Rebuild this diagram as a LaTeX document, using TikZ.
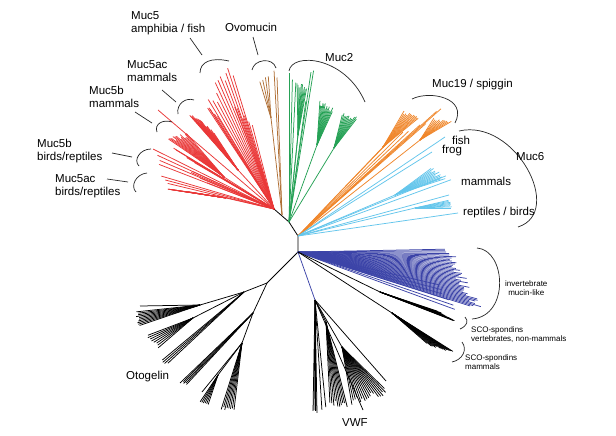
\documentclass[tikz,border=0pt]{standalone}
\usepackage{fontspec}
\setmainfont{Liberation Sans}
\usetikzlibrary{calc}
\definecolor{cred}{RGB}{234,56,56}
\definecolor{cbrown}{RGB}{176,112,54}
\definecolor{cgreen}{RGB}{38,162,86}
\definecolor{corange}{RGB}{240,134,42}
\definecolor{ccyan}{RGB}{100,198,236}
\definecolor{cblue}{RGB}{60,68,168}
% fan of leaves: hub, first tip, last tip, count, length jitter
\newcommand\leaffan[5]{%
  \foreach \lfK in {1,...,#4}{%
    \pgfmathsetmacro\lfT{(\lfK-1)/max(#4-1,1)}%
    \pgfmathsetmacro\lfF{1-#5*rnd}%
    \path ($#2!\lfT!#3$) coordinate (lftip);%
    \draw (#1) -- ($(#1)!\lfF!(lftip)$);%
  }}
\pgfmathsetseed{17}
\begin{document}
\begin{tikzpicture}[x=1pt,y=-1pt,
  leaf/.style={line width=0.75pt},
  trunk/.style={line width=0.8pt,black},
  brk/.style={line width=0.7pt,black!85},
  lab/.style={font=\fontsize{11.5}{13}\selectfont,align=left,inner sep=0pt,anchor=west},
  slab/.style={font=\fontsize{8}{9}\selectfont,align=left,inner sep=0pt,anchor=west}]
\useasboundingbox[fill=white] (0,0) rectangle (616,436);

% ---------- internal nodes ----------
\coordinate (r0) at (274,209);
\coordinate (b0) at (282,215);
\coordinate (n1) at (289,222);
\coordinate (n2) at (298,236);
\coordinate (n3) at (298,252);
\coordinate (o1) at (267,283);

\draw[trunk] (r0) -- (n1) -- (n2) -- (n3) -- (o1);

% ---------- red (Muc5) ----------
\begin{scope}[leaf,cred]
\coordinate (rh2) at (238,170);
\coordinate (rh3) at (224,177);
\coordinate (rh4) at (226,198);
\leaffan{r0}{(203,98)}{(229,62)}{12}{0.12}
\leaffan{r0}{(232,100)}{(252,124)}{6}{0.1}
\leaffan{r0}{(205,104)}{(216,114)}{4}{0.05}
\draw (r0) -- (rh2);
\leaffan{rh2}{(185,110)}{(210,127)}{18}{0.15}
\leaffan{r0}{(158,110)}{(158,110)}{1}{0}
\draw (r0) -- (rh3);
\leaffan{rh3}{(167,138)}{(186,133)}{14}{0.1}
\leaffan{r0}{(170,146)}{(190,160)}{6}{0.1}
\leaffan{r0}{(153,149)}{(158,164)}{4}{0.03}
\leaffan{r0}{(161,176)}{(166,183)}{3}{0.03}
\draw (r0) -- (rh4);
\leaffan{rh4}{(160,188)}{(190,192)}{12}{0.15}
\leaffan{r0}{(185,168)}{(200,180)}{4}{0.1}
\end{scope}

% ---------- brown (Ovomucin) ----------
\begin{scope}[leaf,cbrown]
\coordinate (bh) at (271,118);
\draw (b0) -- (bh);
\leaffan{bh}{(259,79)}{(268,72)}{4}{0.1}
\leaffan{b0}{(274,70)}{(277,77)}{2}{0.02}
\end{scope}

% ---------- green (Muc2) ----------
\begin{scope}[leaf,cgreen]
\coordinate (g1) at (298,135);
\coordinate (g2) at (317,145);
\coordinate (g3) at (334,148);
\leaffan{n1}{(289,73)}{(296,79)}{3}{0.03}
\leaffan{n1}{(311,72)}{(314,68)}{2}{0.02}
\leaffan{n1}{(302,95)}{(306,100)}{2}{0.05}
\draw (n1) -- (g1);
\leaffan{g1}{(297,82)}{(307,86)}{10}{0.12}
\draw (n1) -- (g2);
\leaffan{g2}{(320,100)}{(334,108)}{14}{0.12}
\draw (n1) -- (g3);
\leaffan{g3}{(343,112)}{(358,117)}{12}{0.12}
\end{scope}

% ---------- orange (Muc19) ----------
\begin{scope}[leaf,corange]
\coordinate (oa) at (383,147);
\coordinate (ob) at (420,140);
\draw (n2) -- (oa);
\leaffan{oa}{(404,111)}{(421,116)}{12}{0.1}
\leaffan{n2}{(437,111)}{(443,107)}{2}{0.02}
\draw (n2) -- (ob);
\leaffan{ob}{(434,118)}{(452,121)}{10}{0.1}
\leaffan{n2}{(395,135)}{(430,120)}{5}{0.05}
\end{scope}

% ---------- cyan (Muc6) ----------
\begin{scope}[leaf,ccyan]
\coordinate (c1) at (395,195);
\coordinate (c2) at (415,208);
\leaffan{n2}{(445,137)}{(445,137)}{1}{0}
\leaffan{n2}{(432,152)}{(432,152)}{1}{0}
\draw (n2) -- (c1);
\leaffan{c1}{(433,167)}{(447,178)}{12}{0.12}
\leaffan{n2}{(448,175)}{(453,179)}{2}{0.02}
\leaffan{n2}{(449,195)}{(449,195)}{1}{0}
\draw (n2) -- (c2);
\leaffan{c2}{(450,200)}{(452,208)}{8}{0.05}
\leaffan{n2}{(458,213)}{(458,213)}{1}{0}
\end{scope}

% ---------- blue (invertebrate) ----------
\begin{scope}[leaf,cblue]
\leaffan{n3}{(455,249)}{(483,310)}{40}{0.08}
\leaffan{n3}{(440,285)}{(462,312)}{6}{0.05}
\coordinate (v1) at (315,300);
\draw (n3) -- (v1);
\end{scope}

% ---------- SCO-spondins ----------
\begin{scope}[leaf,black]
\coordinate (s1) at (380,292);
\coordinate (s2) at (392,313);
\draw (n3) -- (s1);
\leaffan{s1}{(440,312)}{(457,322)}{10}{0.05}
\draw (n3) -- (s2);
\leaffan{s2}{(430,346)}{(457,354)}{14}{0.08}
\end{scope}

% ---------- VWF ----------
\begin{scope}[leaf,black]
\coordinate (v2) at (326,322);
\coordinate (v3) at (342,347);
\leaffan{v1}{(313,412)}{(317,413)}{5}{0.02}
\leaffan{v1}{(322,411)}{(326,409)}{2}{0.02}
\draw (v1) -- (v2);
\leaffan{v2}{(330,405)}{(348,410)}{10}{0.08}
\draw (v1) -- (v3);
\leaffan{v3}{(352,405)}{(390,394)}{18}{0.12}
\leaffan{v1}{(386,381)}{(386,381)}{1}{0}
\leaffan{v1}{(363,410)}{(363,410)}{1}{0}
\end{scope}

% ---------- Otogelin ----------
\begin{scope}[leaf,black]
\coordinate (o2) at (244,292);
\coordinate (o3) at (200,305);
\coordinate (o4) at (193,318);
\coordinate (o5) at (253,313);
\coordinate (o7) at (242,343);
\coordinate (o8) at (218,375);
\draw (o1) -- (o2) -- (o3);
\leaffan{o3}{(140,306)}{(140,306)}{1}{0}
\leaffan{o3}{(135,312)}{(138,326)}{10}{0.05}
\draw (o2) -- (o4);
\leaffan{o4}{(146,336)}{(158,348)}{8}{0.06}
\leaffan{o2}{(160,362)}{(166,365)}{4}{0.03}
\draw (o1) -- (o5);
\leaffan{o5}{(180,383)}{(186,385)}{5}{0.03}
\draw (o5) -- (o7);
\leaffan{o7}{(202,392)}{(202,392)}{1}{0}
\draw (o7) -- (o8);
\leaffan{o8}{(200,402)}{(208,405)}{6}{0.05}
\leaffan{o7}{(221,410)}{(234,410)}{8}{0.05}
\end{scope}

% ---------- brackets and leaders ----------
\coordinate (m5a) at (200,73);   \coordinate (m5b) at (229,61);
\draw[brk] (m5a) .. controls (200,62) and (211,57) .. (m5b);
\coordinate (m5l1) at (190,38); \coordinate (m5l2) at (202,55);
\draw[brk] (m5l1) -- (m5l2);

\coordinate (ova) at (252,70); \coordinate (ovb) at (276,68);
\draw[brk] (ova) .. controls (254,59) and (273,57) .. (ovb);
\coordinate (ovl1) at (253,37); \coordinate (ovl2) at (258,55);
\draw[brk] (ovl1) -- (ovl2);

\coordinate (m2a) at (289,71); \coordinate (m2b) at (365,102);
\draw[brk] (m2a) .. controls (292,52) and (345,56) .. (m2b);

\coordinate (acma) at (178,114); \coordinate (acmb) at (194,100);
\draw[brk] (acma) .. controls (176,104) and (186,97) .. (acmb);
\coordinate (acml1) at (162,90); \coordinate (acml2) at (176,102);
\draw[brk] (acml1) -- (acml2);

\coordinate (bma) at (157,132); \coordinate (bmb) at (172,122);
\draw[brk] (bma) .. controls (154,124) and (163,119) .. (bmb);
\coordinate (bml1) at (135,112); \coordinate (bml2) at (152,123);
\draw[brk] (bml1) -- (bml2);

\coordinate (bba) at (151,149); \coordinate (bbb) at (139,166);
\draw[brk] (bba) .. controls (140,149) and (133,160) .. (bbb);
\coordinate (bbl1) at (112,153); \coordinate (bbl2) at (132,157);
\draw[brk] (bbl1) -- (bbl2);

\coordinate (aba) at (147,173); \coordinate (abb) at (136,192);
\draw[brk] (aba) .. controls (136,174) and (130,186) .. (abb);
\coordinate (abl1) at (107,179); \coordinate (abl2) at (128,182);
\draw[brk] (abl1) -- (abl2);

\coordinate (m19a) at (412,99); \coordinate (m19b) at (455,123);
\draw[brk] (m19a) .. controls (430,90) and (468,98) .. (m19b);

\coordinate (m6a) at (459,131); \coordinate (m6b) at (518,227);
\draw[brk] (m6a) .. controls (515,118) and (565,212) .. (m6b);

\coordinate (inva) at (477,248); \coordinate (invb) at (472,319);
\draw[brk] (inva) .. controls (506,250) and (510,316) .. (invb);

\coordinate (scoa) at (465,317); \coordinate (scob) at (460,329);
\draw[brk] (scoa) .. controls (469,321) and (467,326) .. (scob);

\coordinate (scma) at (462,342); \coordinate (scmb) at (452,362);
\draw[brk] (scma) .. controls (468,350) and (462,360) .. (scmb);

% ---------- labels ----------
\node[lab] (tm5) at (131,23) {Muc5\\amphibia / fish};
\node[lab] (tov) at (225,27) {Ovomucin};
\node[lab] (tm2) at (325,58) {Muc2};
\node[lab] (tacm) at (127,71) {Muc5ac\\mammals};
\node[lab] (tbm) at (89,97) {Muc5b\\mammals};
\node[lab] (tbb) at (37,151) {Muc5b\\birds/reptiles};
\node[lab] (tab) at (55,186) {Muc5ac\\birds/reptiles};
\node[lab] (tm19) at (432,85) {Muc19 / spiggin};
\node[lab] (tfish) at (452,140) {fish};
\node[lab] (tfrog) at (442,151) {frog};
\node[lab] (tm6) at (516,157) {Muc6};
\node[lab] (tmam) at (461,181) {mammals};
\node[lab] (trep) at (463,213) {reptiles / birds};
\node[lab] (toto) at (126,377) {Otogelin};
\node[lab] (tvwf) at (342,423) {VWF};
\node[slab,align=center] (tinv) at (505,288) {invertebrate\\mucin-like};
\node[slab] (tsco1) at (471,334.5) {SCO-spondins\\vertebrates, non-mammals};
\node[slab] (tsco2) at (465,362.5) {SCO-spondins\\mammals};
\end{tikzpicture}
\end{document}
